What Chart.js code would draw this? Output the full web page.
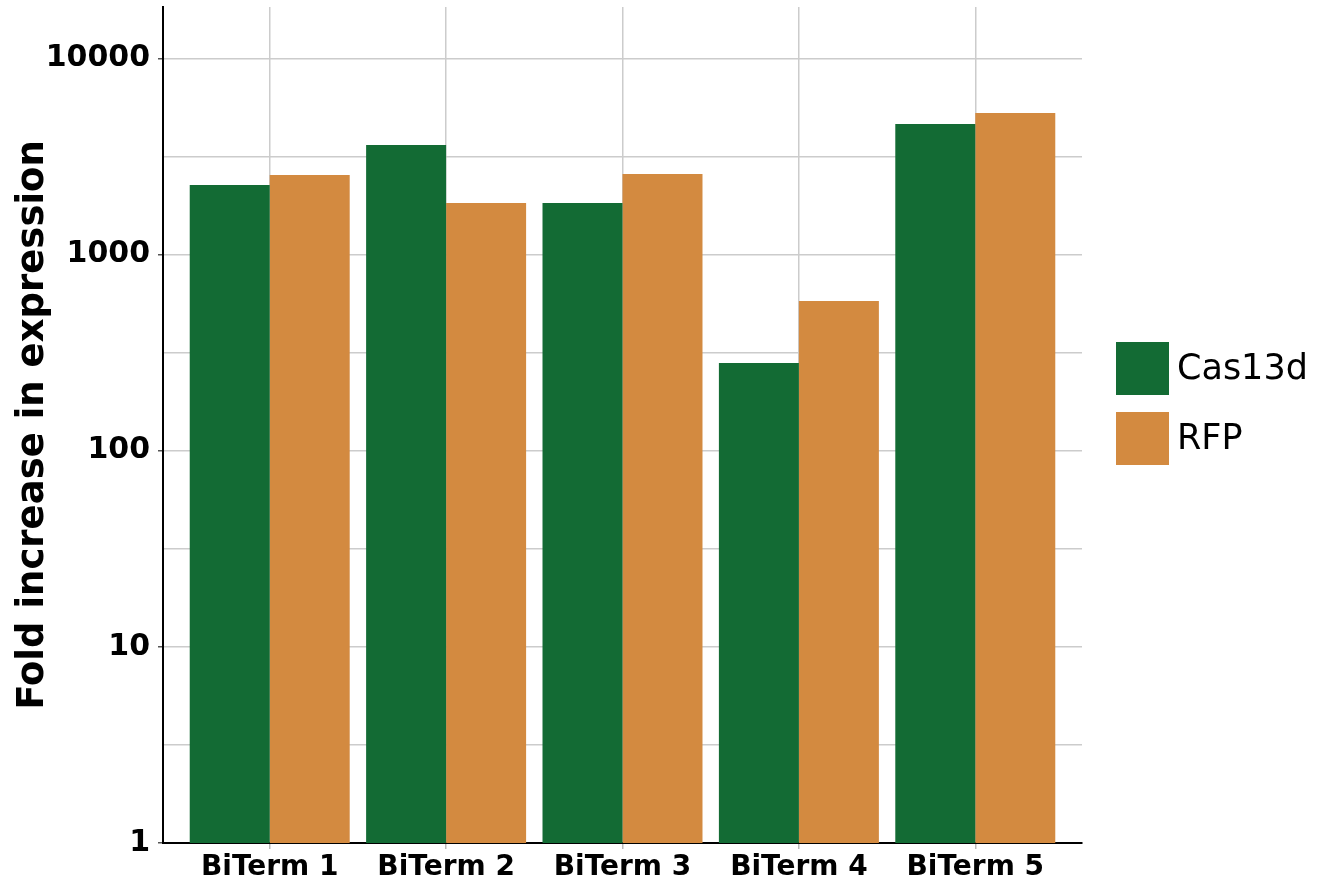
<!DOCTYPE html>
<html>
<head>
<meta charset="utf-8">
<script src="https://cdn.jsdelivr.net/npm/chart.js@4.4.1/dist/chart.umd.min.js"></script>
<style>
html,body{margin:0;padding:0;background:#fff;}
#wrap{width:1330px;height:888px;position:relative;}
</style>
</head>
<body>
<div id="wrap"><canvas id="c" width="1330" height="888"></canvas></div>
<script>
const categories = ['BiTerm 1', 'BiTerm 2', 'BiTerm 3', 'BiTerm 4', 'BiTerm 5'];
const cas13d = [2258, 3611, 1828, 280, 4619];
const rfp = [2539, 1828, 2569, 579, 5256];
const seriesNames = ['Cas13d', 'RFP'];
const yTickValues = [1, 3.1623, 10, 31.623, 100, 316.23, 1000, 3162.3, 10000];
const yMajorTicks = [1, 10, 100, 1000, 10000];
const colors = ['#136B34', '#D38A40'];

const FONT = "'DejaVu Sans', sans-serif";

const toPoints = arr => arr.map((v, i) => ({x: i, y: v}));

const legendPlugin = {
  id: 'customLegend',
  afterDraw(chart) {
    const ctx = chart.ctx;
    const ca = chart.chartArea;
    const x0 = ca.right + 34;
    const size = 53;
    const tops = [342, 412];
    ctx.save();
    chart.data.datasets.forEach((ds, i) => {
      ctx.fillStyle = ds.backgroundColor;
      ctx.fillRect(x0, tops[i], size, size);
      ctx.fillStyle = '#000';
      ctx.font = "35px " + FONT;
      ctx.textBaseline = 'middle';
      ctx.textAlign = 'left';
      ctx.fillText(ds.label, x0 + size + 8, tops[i] + size / 2 + 1);
    });
    ctx.restore();
  }
};

new Chart(document.getElementById('c'), {
  type: 'bar',
  data: {
    datasets: [
      {label: seriesNames[0], data: toPoints(cas13d), backgroundColor: colors[0], borderWidth: 0},
      {label: seriesNames[1], data: toPoints(rfp), backgroundColor: colors[1], borderWidth: 0}
    ]
  },
  options: {
    responsive: false,
    animation: false,
    devicePixelRatio: 1,
    categoryPercentage: 0.907,
    barPercentage: 1.0,
    layout: {padding: {left: 0, top: 7, right: 248, bottom: 0}},
    plugins: {legend: {display: false}, tooltip: {enabled: false}},
    scales: {
      x: {
        type: 'linear',
        offset: false,
        min: -0.605,
        max: 4.605,
        afterBuildTicks: s => { s.ticks = categories.map((c, i) => ({value: i})); },
        afterFit: s => { s.height = 45; s.paddingLeft = 0; s.paddingRight = 0; },
        ticks: {
          callback: v => categories[v],
          color: '#000',
          font: {family: FONT, size: 28, weight: 'bold'},
          padding: 2,
          autoSkip: false,
          maxRotation: 0
        },
        grid: {offset: false, color: '#cccccc', lineWidth: 1.5, tickLength: 6, tickColor: '#bbbbbb'},
        border: {color: '#000', width: 2}
      },
      y: {
        type: 'logarithmic',
        min: 1,
        max: 18250,
        afterBuildTicks: s => { s.ticks = yTickValues.map(v => ({value: v})); },
        afterFit: s => { s.width = 163; s.paddingTop = 0; s.paddingBottom = 0; },
        ticks: {
          callback: v => yMajorTicks.includes(v) ? String(v) : '',
          color: '#000',
          font: {family: FONT, size: 30, weight: 'bold'},
          padding: 8,
          autoSkip: false
        },
        grid: {
          color: '#cccccc', lineWidth: 1.5, tickLength: 5,
          tickColor: ctx => (ctx.tick && yMajorTicks.includes(ctx.tick.value)) ? '#555' : 'rgba(0,0,0,0)'
        },
        border: {color: '#000', width: 2},
        title: {
          display: true,
          text: 'Fold increase in expression',
          color: '#000',
          font: {family: FONT, size: 37, weight: 'bold'},
          padding: {top: 11, bottom: 0}
        }
      }
    }
  },
  plugins: [legendPlugin]
});
</script>
</body>
</html>
